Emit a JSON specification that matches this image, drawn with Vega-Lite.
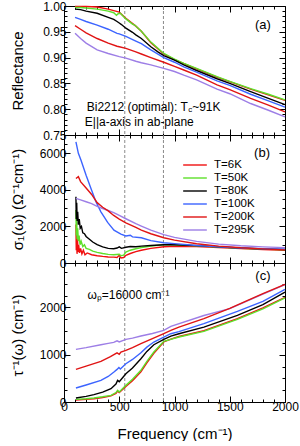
{
  "$schema": "https://vega.github.io/schema/vega-lite/v6.json",
  "padding": {"left": 9, "top": 0, "right": 5, "bottom": 0},
  "spacing": 0,
  "bounds": "flush",
  "config": {
    "font": "Liberation Sans",
    "view": {"stroke": null},
    "axis": {"domainColor": "black", "tickColor": "black", "labelColor": "black", "titleColor": "black", "labelFont": "Liberation Sans", "titleFont": "Liberation Sans", "labelFontSize": 12, "titleFontSize": 15, "titleFontWeight": "normal", "grid": false, "labelFlush": false, "labelOverlap": false, "tickWidth": 1, "domainWidth": 1},
    "line": {"strokeWidth": 1.4, "clip": true},
    "text": {"font": "Liberation Sans", "fontSize": 12, "color": "black"}
  },
  "resolve": {"scale": {"color": "independent"}, "legend": {"color": "independent"}},
  "datasets": {
    "dash": [{"f": 550}, {"f": 900}],
    "a": [
      {"T":"T=6K","f":100,"v":0.999},{"T":"T=6K","f":200,"v":0.999},{"T":"T=6K","f":300,"v":0.998},{"T":"T=6K","f":400,"v":0.994},{"T":"T=6K","f":450,"v":0.991},{"T":"T=6K","f":500,"v":0.988},{"T":"T=6K","f":560,"v":0.976},{"T":"T=6K","f":650,"v":0.961},{"T":"T=6K","f":700,"v":0.951},{"T":"T=6K","f":786,"v":0.929},{"T":"T=6K","f":903,"v":0.907},{"T":"T=6K","f":1000,"v":0.896},{"T":"T=6K","f":1200,"v":0.878},{"T":"T=6K","f":1385,"v":0.862},{"T":"T=6K","f":1689,"v":0.839},{"T":"T=6K","f":2000,"v":0.817},
      {"T":"T=50K","f":100,"v":0.997},{"T":"T=50K","f":150,"v":0.997},{"T":"T=50K","f":200,"v":0.996},{"T":"T=50K","f":300,"v":0.994},{"T":"T=50K","f":400,"v":0.990},{"T":"T=50K","f":450,"v":0.987},{"T":"T=50K","f":475,"v":0.982},{"T":"T=50K","f":490,"v":0.985},{"T":"T=50K","f":510,"v":0.986},{"T":"T=50K","f":560,"v":0.975},{"T":"T=50K","f":620,"v":0.965},{"T":"T=50K","f":640,"v":0.963},{"T":"T=50K","f":700,"v":0.951},{"T":"T=50K","f":786,"v":0.930},{"T":"T=50K","f":850,"v":0.918},{"T":"T=50K","f":903,"v":0.908},{"T":"T=50K","f":1000,"v":0.897},{"T":"T=50K","f":1084,"v":0.889},{"T":"T=50K","f":1200,"v":0.879},{"T":"T=50K","f":1385,"v":0.863},{"T":"T=50K","f":1500,"v":0.854},{"T":"T=50K","f":1689,"v":0.840},{"T":"T=50K","f":1850,"v":0.829},{"T":"T=50K","f":2000,"v":0.818},
      {"T":"T=80K","f":100,"v":0.994},{"T":"T=80K","f":150,"v":0.993},{"T":"T=80K","f":200,"v":0.990},{"T":"T=80K","f":300,"v":0.986},{"T":"T=80K","f":400,"v":0.978},{"T":"T=80K","f":450,"v":0.974},{"T":"T=80K","f":480,"v":0.970},{"T":"T=80K","f":500,"v":0.967},{"T":"T=80K","f":520,"v":0.964},{"T":"T=80K","f":560,"v":0.957},{"T":"T=80K","f":620,"v":0.949},{"T":"T=80K","f":650,"v":0.944},{"T":"T=80K","f":700,"v":0.937},{"T":"T=80K","f":786,"v":0.921},{"T":"T=80K","f":850,"v":0.911},{"T":"T=80K","f":903,"v":0.904},{"T":"T=80K","f":1000,"v":0.895},{"T":"T=80K","f":1084,"v":0.886},{"T":"T=80K","f":1200,"v":0.875},{"T":"T=80K","f":1385,"v":0.859},{"T":"T=80K","f":1500,"v":0.850},{"T":"T=80K","f":1689,"v":0.834},{"T":"T=80K","f":1850,"v":0.821},{"T":"T=80K","f":2000,"v":0.809},
      {"T":"T=100K","f":100,"v":0.978},{"T":"T=100K","f":150,"v":0.974},{"T":"T=100K","f":200,"v":0.970},{"T":"T=100K","f":300,"v":0.963},{"T":"T=100K","f":400,"v":0.955},{"T":"T=100K","f":480,"v":0.947},{"T":"T=100K","f":500,"v":0.946},{"T":"T=100K","f":560,"v":0.941},{"T":"T=100K","f":650,"v":0.932},{"T":"T=100K","f":700,"v":0.927},{"T":"T=100K","f":786,"v":0.915},{"T":"T=100K","f":903,"v":0.900},{"T":"T=100K","f":1000,"v":0.891},{"T":"T=100K","f":1084,"v":0.882},{"T":"T=100K","f":1200,"v":0.872},{"T":"T=100K","f":1385,"v":0.855},{"T":"T=100K","f":1500,"v":0.846},{"T":"T=100K","f":1689,"v":0.829},{"T":"T=100K","f":1850,"v":0.816},{"T":"T=100K","f":2000,"v":0.804},
      {"T":"T=295K","f":100,"v":0.947},{"T":"T=295K","f":150,"v":0.937},{"T":"T=295K","f":200,"v":0.928},{"T":"T=295K","f":300,"v":0.915},{"T":"T=295K","f":400,"v":0.908},{"T":"T=295K","f":500,"v":0.902},{"T":"T=295K","f":560,"v":0.899},{"T":"T=295K","f":650,"v":0.893},{"T":"T=295K","f":700,"v":0.890},{"T":"T=295K","f":786,"v":0.886},{"T":"T=295K","f":903,"v":0.879},{"T":"T=295K","f":1000,"v":0.873},{"T":"T=295K","f":1084,"v":0.866},{"T":"T=295K","f":1200,"v":0.857},{"T":"T=295K","f":1385,"v":0.839},{"T":"T=295K","f":1500,"v":0.830},{"T":"T=295K","f":1689,"v":0.811},{"T":"T=295K","f":1850,"v":0.798},{"T":"T=295K","f":2000,"v":0.785},
      {"T":"T=200K","f":100,"v":0.962},{"T":"T=200K","f":150,"v":0.955},{"T":"T=200K","f":200,"v":0.948},{"T":"T=200K","f":300,"v":0.937},{"T":"T=200K","f":400,"v":0.928},{"T":"T=200K","f":480,"v":0.922},{"T":"T=200K","f":500,"v":0.921},{"T":"T=200K","f":560,"v":0.918},{"T":"T=200K","f":650,"v":0.911},{"T":"T=200K","f":700,"v":0.907},{"T":"T=200K","f":786,"v":0.900},{"T":"T=200K","f":903,"v":0.891},{"T":"T=200K","f":1000,"v":0.883},{"T":"T=200K","f":1084,"v":0.876},{"T":"T=200K","f":1200,"v":0.866},{"T":"T=200K","f":1385,"v":0.847},{"T":"T=200K","f":1500,"v":0.838},{"T":"T=200K","f":1689,"v":0.821},{"T":"T=200K","f":1850,"v":0.808},{"T":"T=200K","f":2000,"v":0.795}
    ],
    "b": [
      {"T":"T=6K","f":108,"v":2100},{"T":"T=6K","f":111,"v":700},{"T":"T=6K","f":114,"v":1600},{"T":"T=6K","f":118,"v":500},{"T":"T=6K","f":122,"v":1300},{"T":"T=6K","f":127,"v":600},{"T":"T=6K","f":133,"v":1000},{"T":"T=6K","f":140,"v":550},{"T":"T=6K","f":150,"v":800},{"T":"T=6K","f":162,"v":500},{"T":"T=6K","f":175,"v":700},{"T":"T=6K","f":190,"v":450},{"T":"T=6K","f":210,"v":550},{"T":"T=6K","f":250,"v":450},{"T":"T=6K","f":300,"v":400},{"T":"T=6K","f":350,"v":360},{"T":"T=6K","f":400,"v":330},{"T":"T=6K","f":450,"v":320},{"T":"T=6K","f":480,"v":300},{"T":"T=6K","f":500,"v":420},{"T":"T=6K","f":515,"v":280},{"T":"T=6K","f":540,"v":300},{"T":"T=6K","f":560,"v":420},{"T":"T=6K","f":600,"v":520},{"T":"T=6K","f":650,"v":620},{"T":"T=6K","f":700,"v":700},{"T":"T=6K","f":786,"v":800},{"T":"T=6K","f":903,"v":890},{"T":"T=6K","f":1000,"v":920},{"T":"T=6K","f":1200,"v":900},{"T":"T=6K","f":1400,"v":850},{"T":"T=6K","f":1600,"v":790},{"T":"T=6K","f":1800,"v":740},{"T":"T=6K","f":2000,"v":700},
      {"T":"T=50K","f":108,"v":2900},{"T":"T=50K","f":111,"v":1500},{"T":"T=50K","f":115,"v":2400},{"T":"T=50K","f":119,"v":1300},{"T":"T=50K","f":124,"v":1900},{"T":"T=50K","f":130,"v":1200},{"T":"T=50K","f":137,"v":1500},{"T":"T=50K","f":145,"v":1000},{"T":"T=50K","f":155,"v":1200},{"T":"T=50K","f":170,"v":900},{"T":"T=50K","f":185,"v":1000},{"T":"T=50K","f":200,"v":800},{"T":"T=50K","f":230,"v":750},{"T":"T=50K","f":260,"v":650},{"T":"T=50K","f":300,"v":580},{"T":"T=50K","f":350,"v":520},{"T":"T=50K","f":400,"v":470},{"T":"T=50K","f":450,"v":450},{"T":"T=50K","f":500,"v":480},{"T":"T=50K","f":515,"v":400},{"T":"T=50K","f":540,"v":430},{"T":"T=50K","f":560,"v":600},{"T":"T=50K","f":600,"v":700},{"T":"T=50K","f":650,"v":780},{"T":"T=50K","f":700,"v":850},{"T":"T=50K","f":786,"v":930},{"T":"T=50K","f":903,"v":990},{"T":"T=50K","f":1000,"v":990},{"T":"T=50K","f":1200,"v":940},{"T":"T=50K","f":1400,"v":870},{"T":"T=50K","f":1600,"v":810},{"T":"T=50K","f":1800,"v":760},{"T":"T=50K","f":2000,"v":720},
      {"T":"T=80K","f":108,"v":3620},{"T":"T=80K","f":111,"v":2400},{"T":"T=80K","f":115,"v":3300},{"T":"T=80K","f":119,"v":2300},{"T":"T=80K","f":124,"v":2800},{"T":"T=80K","f":130,"v":2100},{"T":"T=80K","f":138,"v":2400},{"T":"T=80K","f":147,"v":1900},{"T":"T=80K","f":158,"v":2000},{"T":"T=80K","f":170,"v":1650},{"T":"T=80K","f":185,"v":1600},{"T":"T=80K","f":200,"v":1450},{"T":"T=80K","f":230,"v":1300},{"T":"T=80K","f":260,"v":1150},{"T":"T=80K","f":300,"v":1000},{"T":"T=80K","f":350,"v":880},{"T":"T=80K","f":400,"v":800},{"T":"T=80K","f":450,"v":780},{"T":"T=80K","f":480,"v":820},{"T":"T=80K","f":500,"v":880},{"T":"T=80K","f":520,"v":800},{"T":"T=80K","f":560,"v":860},{"T":"T=80K","f":600,"v":900},{"T":"T=80K","f":650,"v":890},{"T":"T=80K","f":700,"v":920},{"T":"T=80K","f":786,"v":960},{"T":"T=80K","f":903,"v":1000},{"T":"T=80K","f":1000,"v":1000},{"T":"T=80K","f":1200,"v":950},{"T":"T=80K","f":1400,"v":880},{"T":"T=80K","f":1600,"v":820},{"T":"T=80K","f":1800,"v":770},{"T":"T=80K","f":2000,"v":740},
      {"T":"T=100K","f":108,"v":6620},{"T":"T=100K","f":130,"v":6000},{"T":"T=100K","f":154,"v":5620},{"T":"T=100K","f":200,"v":4800},{"T":"T=100K","f":244,"v":4080},{"T":"T=100K","f":289,"v":3350},{"T":"T=100K","f":334,"v":2800},{"T":"T=100K","f":395,"v":2220},{"T":"T=100K","f":452,"v":1800},{"T":"T=100K","f":515,"v":1580},{"T":"T=100K","f":560,"v":1480},{"T":"T=100K","f":600,"v":1520},{"T":"T=100K","f":620,"v":1430},{"T":"T=100K","f":700,"v":1380},{"T":"T=100K","f":786,"v":1220},{"T":"T=100K","f":903,"v":1110},{"T":"T=100K","f":1000,"v":1060},{"T":"T=100K","f":1200,"v":960},{"T":"T=100K","f":1400,"v":880},{"T":"T=100K","f":1600,"v":820},{"T":"T=100K","f":1800,"v":780},{"T":"T=100K","f":2000,"v":750},
      {"T":"T=295K","f":108,"v":3530},{"T":"T=295K","f":150,"v":3450},{"T":"T=295K","f":200,"v":3350},{"T":"T=295K","f":250,"v":3250},{"T":"T=295K","f":300,"v":3100},{"T":"T=295K","f":350,"v":2980},{"T":"T=295K","f":400,"v":2870},{"T":"T=295K","f":450,"v":2750},{"T":"T=295K","f":500,"v":2600},{"T":"T=295K","f":560,"v":2420},{"T":"T=295K","f":650,"v":2150},{"T":"T=295K","f":700,"v":2020},{"T":"T=295K","f":786,"v":1800},{"T":"T=295K","f":903,"v":1550},{"T":"T=295K","f":1000,"v":1400},{"T":"T=295K","f":1200,"v":1180},{"T":"T=295K","f":1400,"v":1030},{"T":"T=295K","f":1600,"v":940},{"T":"T=295K","f":1800,"v":880},{"T":"T=295K","f":2000,"v":840},
      {"T":"T=200K","f":108,"v":4620},{"T":"T=200K","f":130,"v":4720},{"T":"T=200K","f":150,"v":4450},{"T":"T=200K","f":200,"v":4100},{"T":"T=200K","f":250,"v":3750},{"T":"T=200K","f":300,"v":3300},{"T":"T=200K","f":350,"v":3050},{"T":"T=200K","f":400,"v":2850},{"T":"T=200K","f":450,"v":2600},{"T":"T=200K","f":500,"v":2400},{"T":"T=200K","f":560,"v":2200},{"T":"T=200K","f":650,"v":1950},{"T":"T=200K","f":700,"v":1800},{"T":"T=200K","f":786,"v":1600},{"T":"T=200K","f":903,"v":1380},{"T":"T=200K","f":1000,"v":1250},{"T":"T=200K","f":1200,"v":1050},{"T":"T=200K","f":1400,"v":920},{"T":"T=200K","f":1600,"v":830},{"T":"T=200K","f":1800,"v":770},{"T":"T=200K","f":2000,"v":720}
    ],
    "c": [
      {"T":"T=6K","f":108,"v":40},{"T":"T=6K","f":200,"v":55},{"T":"T=6K","f":271,"v":70},{"T":"T=6K","f":350,"v":95},{"T":"T=6K","f":425,"v":130},{"T":"T=6K","f":470,"v":180},{"T":"T=6K","f":485,"v":230},{"T":"T=6K","f":500,"v":200},{"T":"T=6K","f":560,"v":330},{"T":"T=6K","f":620,"v":450},{"T":"T=6K","f":696,"v":640},{"T":"T=6K","f":750,"v":830},{"T":"T=6K","f":813,"v":1030},{"T":"T=6K","f":903,"v":1270},{"T":"T=6K","f":967,"v":1330},{"T":"T=6K","f":1040,"v":1385},{"T":"T=6K","f":1266,"v":1510},{"T":"T=6K","f":1569,"v":1765},{"T":"T=6K","f":1800,"v":1990},{"T":"T=6K","f":2000,"v":2215},
      {"T":"T=50K","f":108,"v":56},{"T":"T=50K","f":200,"v":70},{"T":"T=50K","f":271,"v":85},{"T":"T=50K","f":350,"v":110},{"T":"T=50K","f":425,"v":141},{"T":"T=50K","f":470,"v":200},{"T":"T=50K","f":485,"v":247},{"T":"T=50K","f":500,"v":210},{"T":"T=50K","f":560,"v":352},{"T":"T=50K","f":620,"v":480},{"T":"T=50K","f":696,"v":670},{"T":"T=50K","f":750,"v":860},{"T":"T=50K","f":813,"v":1057},{"T":"T=50K","f":903,"v":1283},{"T":"T=50K","f":967,"v":1325},{"T":"T=50K","f":1040,"v":1374},{"T":"T=50K","f":1266,"v":1494},{"T":"T=50K","f":1569,"v":1748},{"T":"T=50K","f":1800,"v":1970},{"T":"T=50K","f":2000,"v":2200},
      {"T":"T=80K","f":108,"v":85},{"T":"T=80K","f":200,"v":120},{"T":"T=80K","f":271,"v":155},{"T":"T=80K","f":350,"v":210},{"T":"T=80K","f":425,"v":282},{"T":"T=80K","f":470,"v":380},{"T":"T=80K","f":485,"v":458},{"T":"T=80K","f":500,"v":430},{"T":"T=80K","f":560,"v":599},{"T":"T=80K","f":620,"v":720},{"T":"T=80K","f":696,"v":916},{"T":"T=80K","f":750,"v":1070},{"T":"T=80K","f":813,"v":1212},{"T":"T=80K","f":903,"v":1325},{"T":"T=80K","f":967,"v":1395},{"T":"T=80K","f":1040,"v":1444},{"T":"T=80K","f":1266,"v":1585},{"T":"T=80K","f":1569,"v":1832},{"T":"T=80K","f":1800,"v":2060},{"T":"T=80K","f":2000,"v":2325},
      {"T":"T=100K","f":108,"v":296},{"T":"T=100K","f":200,"v":360},{"T":"T=100K","f":334,"v":458},{"T":"T=100K","f":400,"v":540},{"T":"T=100K","f":452,"v":634},{"T":"T=100K","f":480,"v":690},{"T":"T=100K","f":497,"v":730},{"T":"T=100K","f":510,"v":700},{"T":"T=100K","f":560,"v":810},{"T":"T=100K","f":620,"v":900},{"T":"T=100K","f":696,"v":1043},{"T":"T=100K","f":750,"v":1160},{"T":"T=100K","f":813,"v":1268},{"T":"T=100K","f":903,"v":1374},{"T":"T=100K","f":967,"v":1444},{"T":"T=100K","f":1040,"v":1490},{"T":"T=100K","f":1266,"v":1656},{"T":"T=100K","f":1569,"v":1917},{"T":"T=100K","f":1800,"v":2130},{"T":"T=100K","f":2000,"v":2382},
      {"T":"T=295K","f":108,"v":1113},{"T":"T=295K","f":200,"v":1150},{"T":"T=295K","f":334,"v":1212},{"T":"T=295K","f":400,"v":1240},{"T":"T=295K","f":450,"v":1262},{"T":"T=295K","f":480,"v":1295},{"T":"T=295K","f":500,"v":1270},{"T":"T=295K","f":560,"v":1325},{"T":"T=295K","f":620,"v":1350},{"T":"T=295K","f":696,"v":1395},{"T":"T=295K","f":800,"v":1450},{"T":"T=295K","f":903,"v":1515},{"T":"T=295K","f":967,"v":1600},{"T":"T=295K","f":1266,"v":1830},{"T":"T=295K","f":1500,"v":1975},{"T":"T=295K","f":1800,"v":2283},{"T":"T=295K","f":2000,"v":2483},
      {"T":"T=200K","f":108,"v":691},{"T":"T=200K","f":200,"v":760},{"T":"T=200K","f":334,"v":860},{"T":"T=200K","f":420,"v":960},{"T":"T=200K","f":480,"v":1040},{"T":"T=200K","f":500,"v":1010},{"T":"T=200K","f":515,"v":1057},{"T":"T=200K","f":560,"v":1092},{"T":"T=200K","f":620,"v":1150},{"T":"T=200K","f":696,"v":1233},{"T":"T=200K","f":800,"v":1340},{"T":"T=200K","f":903,"v":1444},{"T":"T=200K","f":967,"v":1515},{"T":"T=200K","f":1040,"v":1585},{"T":"T=200K","f":1266,"v":1762},{"T":"T=200K","f":1500,"v":1980},{"T":"T=200K","f":1800,"v":2290},{"T":"T=200K","f":2000,"v":2490}
    ]
  },
  "vconcat": [
    {
      "width": 221, "height": 129,
      "resolve": {"axis": {"x": "independent", "y": "independent"}},
      "layer": [
        {"data": {"name": "dash"}, "mark": {"type": "rule", "color": "#8a8a8a", "strokeDash": [3, 2], "strokeWidth": 1},
         "encoding": {"x": {"field": "f", "type": "quantitative", "scale": {"domain": [0, 2000], "nice": false}, "axis": null}}},
        {"data": {"name": "a"}, "mark": "line",
         "encoding": {
           "x": {"field": "f", "type": "quantitative", "scale": {"domain": [0, 2000], "nice": false},
                 "axis": {"orient": "bottom", "values": [0,100,200,300,400,500,600,700,800,900,1000,1100,1200,1300,1400,1500,1600,1700,1800,1900,2000], "tickSize": {"condition": {"test": "datum.value % 500 === 0", "value": -6}, "value": -3}, "labels": false, "title": null}},
           "y": {"field": "v", "type": "quantitative", "scale": {"domain": [0.75, 1.0], "nice": false, "zero": false},
                 "axis": {"orient": "left", "values": [0.75,0.76,0.77,0.78,0.79,0.8,0.81,0.82,0.83,0.84,0.85,0.86,0.87,0.88,0.89,0.9,0.91,0.92,0.93,0.94,0.95,0.96,0.97,0.98,0.99,1.0], "format": ".2f", "tickSize": {"condition": {"test": "abs(datum.value*20 - round(datum.value*20)) < 0.001", "value": -6}, "value": -3}, "labelExpr": "abs(datum.value*20 - round(datum.value*20)) < 0.001 ? datum.label : ''", "labelPadding": 4, "title": "Reflectance", "titleX": -47, "titleY": 64.5, "titleAngle": -90, "titleAlign": "center", "titleBaseline": "middle"}},
           "color": {"field": "T", "type": "nominal", "scale": {"domain": ["T=6K","T=50K","T=80K","T=100K","T=200K","T=295K"], "range": ["#f01010","#5ee02a","#000000","#3c64ff","#e01414","#9d7ee6"]}, "legend": null}
         }},
        {"data": {"values": [{"f": 1800, "v": 0.963, "t": "(a)"}]}, "mark": {"type": "text", "fontSize": 13},
         "encoding": {
           "x": {"field": "f", "type": "quantitative", "scale": {"domain": [0, 2000], "nice": false},
                 "axis": {"orient": "top", "values": [0,100,200,300,400,500,600,700,800,900,1000,1100,1200,1300,1400,1500,1600,1700,1800,1900,2000], "tickSize": {"condition": {"test": "datum.value % 500 === 0", "value": -6}, "value": -3}, "labels": false, "title": null}},
           "y": {"field": "v", "type": "quantitative", "scale": {"domain": [0.75, 1.0], "nice": false, "zero": false},
                 "axis": {"orient": "right", "values": [0.75,0.76,0.77,0.78,0.79,0.8,0.81,0.82,0.83,0.84,0.85,0.86,0.87,0.88,0.89,0.9,0.91,0.92,0.93,0.94,0.95,0.96,0.97,0.98,0.99,1.0], "tickSize": {"condition": {"test": "abs(datum.value*20 - round(datum.value*20)) < 0.001", "value": -6}, "value": -3}, "labels": false, "title": null}},
           "text": {"field": "t"}
         }},
        {"data": {"values": [{"f": 1121, "v": 0.804, "t": "Bi2212 (optimal): T"}]}, "mark": {"type": "text", "align": "right", "baseline": "middle"},
         "encoding": {"x": {"field": "f", "type": "quantitative", "axis": null}, "y": {"field": "v", "type": "quantitative", "axis": null}, "text": {"field": "t"}}},
        {"data": {"values": [{"f": 1125, "v": 0.798, "t": "c"}]}, "mark": {"type": "text", "align": "left", "baseline": "middle", "fontSize": 8},
         "encoding": {"x": {"field": "f", "type": "quantitative", "axis": null}, "y": {"field": "v", "type": "quantitative", "axis": null}, "text": {"field": "t"}}},
        {"data": {"values": [{"f": 1160, "v": 0.804, "t": "~91K"}, {"f": 188, "v": 0.775, "t": "E||a-axis in ab-plane"}]}, "mark": {"type": "text", "align": "left", "baseline": "middle"},
         "encoding": {"x": {"field": "f", "type": "quantitative", "axis": null}, "y": {"field": "v", "type": "quantitative", "axis": null}, "text": {"field": "t"}}}
      ]
    },
    {
      "width": 221, "height": 128,
      "resolve": {"axis": {"x": "independent", "y": "independent"}},
      "layer": [
        {"data": {"name": "dash"}, "mark": {"type": "rule", "color": "#8a8a8a", "strokeDash": [3, 2], "strokeWidth": 1},
         "encoding": {"x": {"field": "f", "type": "quantitative", "scale": {"domain": [0, 2000], "nice": false}, "axis": null}}},
        {"data": {"name": "b"}, "mark": "line",
         "encoding": {
           "x": {"field": "f", "type": "quantitative", "scale": {"domain": [0, 2000], "nice": false},
                 "axis": {"orient": "bottom", "values": [0,100,200,300,400,500,600,700,800,900,1000,1100,1200,1300,1400,1500,1600,1700,1800,1900,2000], "tickSize": {"condition": {"test": "datum.value % 500 === 0", "value": -6}, "value": -3}, "labels": false, "title": null}},
           "y": {"field": "v", "type": "quantitative", "scale": {"domain": [0, 7000], "nice": false},
                 "axis": {"orient": "left", "values": [0,500,1000,1500,2000,2500,3000,3500,4000,4500,5000,5500,6000,6500,7000], "format": "d", "tickSize": {"condition": {"test": "datum.value % 2000 === 0", "value": -6}, "value": -3}, "labelExpr": "datum.value % 2000 === 0 ? datum.label : ''", "labelPadding": 4, "title": "σ₁(ω) (Ω⁻¹cm⁻¹)", "titleX": -47, "titleY": 64, "titleAngle": -90, "titleAlign": "center", "titleBaseline": "middle"}},
           "color": {"field": "T", "type": "nominal", "scale": {"domain": ["T=6K","T=50K","T=80K","T=100K","T=200K","T=295K"], "range": ["#f01010","#5ee02a","#000000","#3c64ff","#e01414","#9d7ee6"]},
                     "legend": {"orient": "none", "legendX": 124, "legendY": 23, "title": null, "symbolType": "M-2,0H2", "symbolSize": 140, "symbolStrokeWidth": 2, "labelFontSize": 11.5, "labelFont": "Liberation Sans", "labelColor": "black", "rowPadding": 0, "labelOffset": 12, "padding": 0}}
         }},
        {"data": {"values": [{"f": 1792, "v": 6020, "t": "(b)"}]}, "mark": {"type": "text", "fontSize": 13},
         "encoding": {
           "x": {"field": "f", "type": "quantitative", "scale": {"domain": [0, 2000], "nice": false},
                 "axis": {"orient": "top", "values": [0,100,200,300,400,500,600,700,800,900,1000,1100,1200,1300,1400,1500,1600,1700,1800,1900,2000], "tickSize": {"condition": {"test": "datum.value % 500 === 0", "value": -6}, "value": -3}, "labels": false, "title": null}},
           "y": {"field": "v", "type": "quantitative", "scale": {"domain": [0, 7000], "nice": false},
                 "axis": {"orient": "right", "values": [0,500,1000,1500,2000,2500,3000,3500,4000,4500,5000,5500,6000,6500,7000], "tickSize": {"condition": {"test": "datum.value % 2000 === 0", "value": -6}, "value": -3}, "labels": false, "title": null}},
           "text": {"field": "t"}
         }}
      ]
    },
    {
      "width": 221, "height": 139,
      "resolve": {"axis": {"x": "independent", "y": "independent"}},
      "layer": [
        {"data": {"name": "dash"}, "mark": {"type": "rule", "color": "#8a8a8a", "strokeDash": [3, 2], "strokeWidth": 1},
         "encoding": {"x": {"field": "f", "type": "quantitative", "scale": {"domain": [0, 2000], "nice": false}, "axis": null}}},
        {"data": {"name": "c"}, "mark": "line",
         "encoding": {
           "x": {"field": "f", "type": "quantitative", "scale": {"domain": [0, 2000], "nice": false},
                 "axis": {"orient": "bottom", "values": [0,100,200,300,400,500,600,700,800,900,1000,1100,1200,1300,1400,1500,1600,1700,1800,1900,2000], "format": "d", "tickSize": {"condition": {"test": "datum.value % 500 === 0", "value": -6}, "value": -3}, "labelExpr": "datum.value % 500 === 0 ? datum.label : ''", "labelPadding": 5, "title": "Frequency (cm⁻¹)", "titlePadding": 11}},
           "y": {"field": "v", "type": "quantitative", "scale": {"domain": [0, 2940], "nice": false},
                 "axis": {"orient": "left", "values": [0,250,500,750,1000,1250,1500,1750,2000,2250,2500,2750], "format": "d", "tickSize": {"condition": {"test": "datum.value % 1000 === 0", "value": -6}, "value": -3}, "labelExpr": "datum.value % 1000 === 0 ? datum.label : ''", "labelPadding": 4, "title": "τ⁻¹(ω) (cm⁻¹)", "titleX": -47, "titleY": 72, "titleAngle": -90, "titleAlign": "center", "titleBaseline": "middle"}},
           "color": {"field": "T", "type": "nominal", "scale": {"domain": ["T=6K","T=50K","T=80K","T=100K","T=200K","T=295K"], "range": ["#f01010","#5ee02a","#000000","#3c64ff","#e01414","#9d7ee6"]}, "legend": null}
         }},
        {"data": {"values": [{"f": 1800, "v": 2670, "t": "(c)"}]}, "mark": {"type": "text", "fontSize": 13},
         "encoding": {
           "x": {"field": "f", "type": "quantitative", "scale": {"domain": [0, 2000], "nice": false},
                 "axis": {"orient": "top", "values": [0,100,200,300,400,500,600,700,800,900,1000,1100,1200,1300,1400,1500,1600,1700,1800,1900,2000], "tickSize": {"condition": {"test": "datum.value % 500 === 0", "value": -6}, "value": -3}, "labels": false, "title": null}},
           "y": {"field": "v", "type": "quantitative", "scale": {"domain": [0, 2940], "nice": false},
                 "axis": {"orient": "right", "values": [0,250,500,750,1000,1250,1500,1750,2000,2250,2500,2750], "tickSize": {"condition": {"test": "datum.value % 1000 === 0", "value": -6}, "value": -3}, "labels": false, "title": null}},
           "text": {"field": "t"}
         }},
        {"data": {"values": [{"f": 583, "v": 2262, "t": "ωₚ=16000 cm⁻¹"}]}, "mark": {"type": "text", "align": "center", "baseline": "middle"},
         "encoding": {"x": {"field": "f", "type": "quantitative", "axis": null}, "y": {"field": "v", "type": "quantitative", "axis": null}, "text": {"field": "t"}}}
      ]
    }
  ]
}
